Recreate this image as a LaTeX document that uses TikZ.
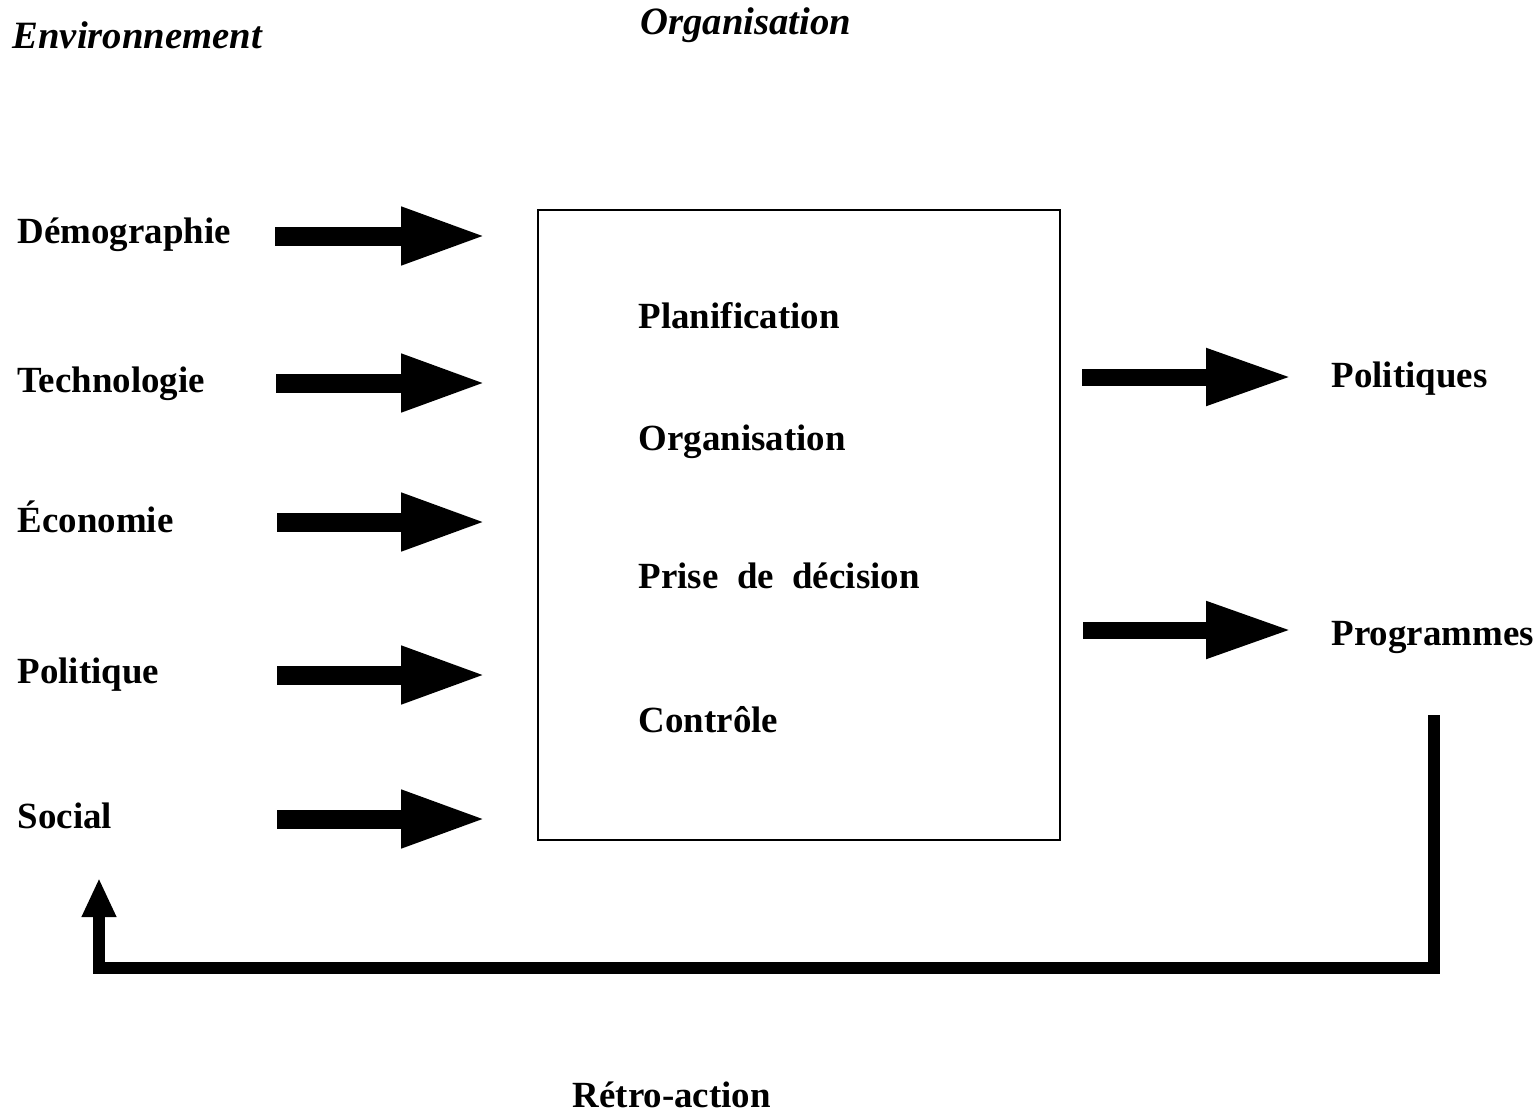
\documentclass[tikz,border=0pt]{standalone}
\usepackage{fontspec}
\setmainfont{Liberation Serif}
\usepackage{tikz}
\usetikzlibrary{arrows.meta}
\usepackage{xcolor}

\begin{document}
\begin{tikzpicture}[
    every node/.style={inner sep=0pt, anchor=base west, font=\fontsize{10.5}{12}\selectfont\bfseries},
    title/.style={font=\fontsize{11}{13}\selectfont\bfseries\itshape},
    inarrow/.style={line width=0.19cm, -{Triangle[length=0.86cm, width=0.53cm]}},
    outarrow/.style={line width=0.17cm, -{Triangle[length=0.86cm, width=0.53cm]}},
    loopline/.style={line width=0.115cm, line join=miter, -{Triangle[length=0.39cm, width=0.32cm]}}
]
    \useasboundingbox (0,0) rectangle (15.39,11.13);

    % Titles
    \node[title] (env) at (0.12,10.65) {Environnement};
    \node[title] (orgt) at (6.40,10.78) {Organisation};

    % Environment factors
    \node (dem) at (0.17,8.70) {Démographie};
    \node (tec) at (0.17,7.21) {Technologie};
    \node (eco) at (0.17,5.81) {Économie};
    \node (pol) at (0.17,4.30) {Politique};
    \node (soc) at (0.17,2.85) {Social};

    % Organisation box
    \node[draw, line width=0.8pt, anchor=center, minimum width=5.22cm, minimum height=6.30cm] (org) at (7.99,5.88) {};

    % Functions inside the box
    \node (pla) at (6.38,7.85) {Planification};
    \node (orn) at (6.38,6.63) {Organisation};
    \node (pri) at (6.38,5.25) {Prise\ \ de\ \ décision};
    \node (con) at (6.38,3.81) {Contrôle};

    % Outputs
    \node (polq) at (13.31,7.26) {Politiques};
    \node (prog) at (13.31,4.68) {Programmes};

    % Feedback label
    \node (ret) at (5.72,0.06) {Rétro-action};

    % Arrow end points
    \coordinate (demS) at (2.75,8.77);
    \coordinate (demE) at (4.87,8.77);
    \coordinate (tecS) at (2.76,7.30);
    \coordinate (tecE) at (4.87,7.30);
    \coordinate (ecoS) at (2.77,5.91);
    \coordinate (ecoE) at (4.87,5.91);
    \coordinate (polS) at (2.77,4.38);
    \coordinate (polE) at (4.87,4.38);
    \coordinate (socS) at (2.77,2.94);
    \coordinate (socE) at (4.87,2.94);

    \coordinate (polqS) at (10.82,7.36);
    \coordinate (polqE) at (12.92,7.36);
    \coordinate (progS) at (10.83,4.83);
    \coordinate (progE) at (12.92,4.83);

    \coordinate (fbA) at (14.34,3.98);
    \coordinate (fbB) at (14.34,1.45);
    \coordinate (fbC) at (0.99,1.45);
    \coordinate (fbD) at (0.99,2.35);

    % Inputs into the organisation
    \draw[inarrow] (demS) -- (demE);
    \draw[inarrow] (tecS) -- (tecE);
    \draw[inarrow] (ecoS) -- (ecoE);
    \draw[inarrow] (polS) -- (polE);
    \draw[inarrow] (socS) -- (socE);

    % Outputs of the organisation
    \draw[outarrow] (polqS) -- (polqE);
    \draw[outarrow] (progS) -- (progE);

    % Feedback loop
    \draw[loopline] (fbA) -- (fbB) -- (fbC) -- (fbD);
\end{tikzpicture}
\end{document}
